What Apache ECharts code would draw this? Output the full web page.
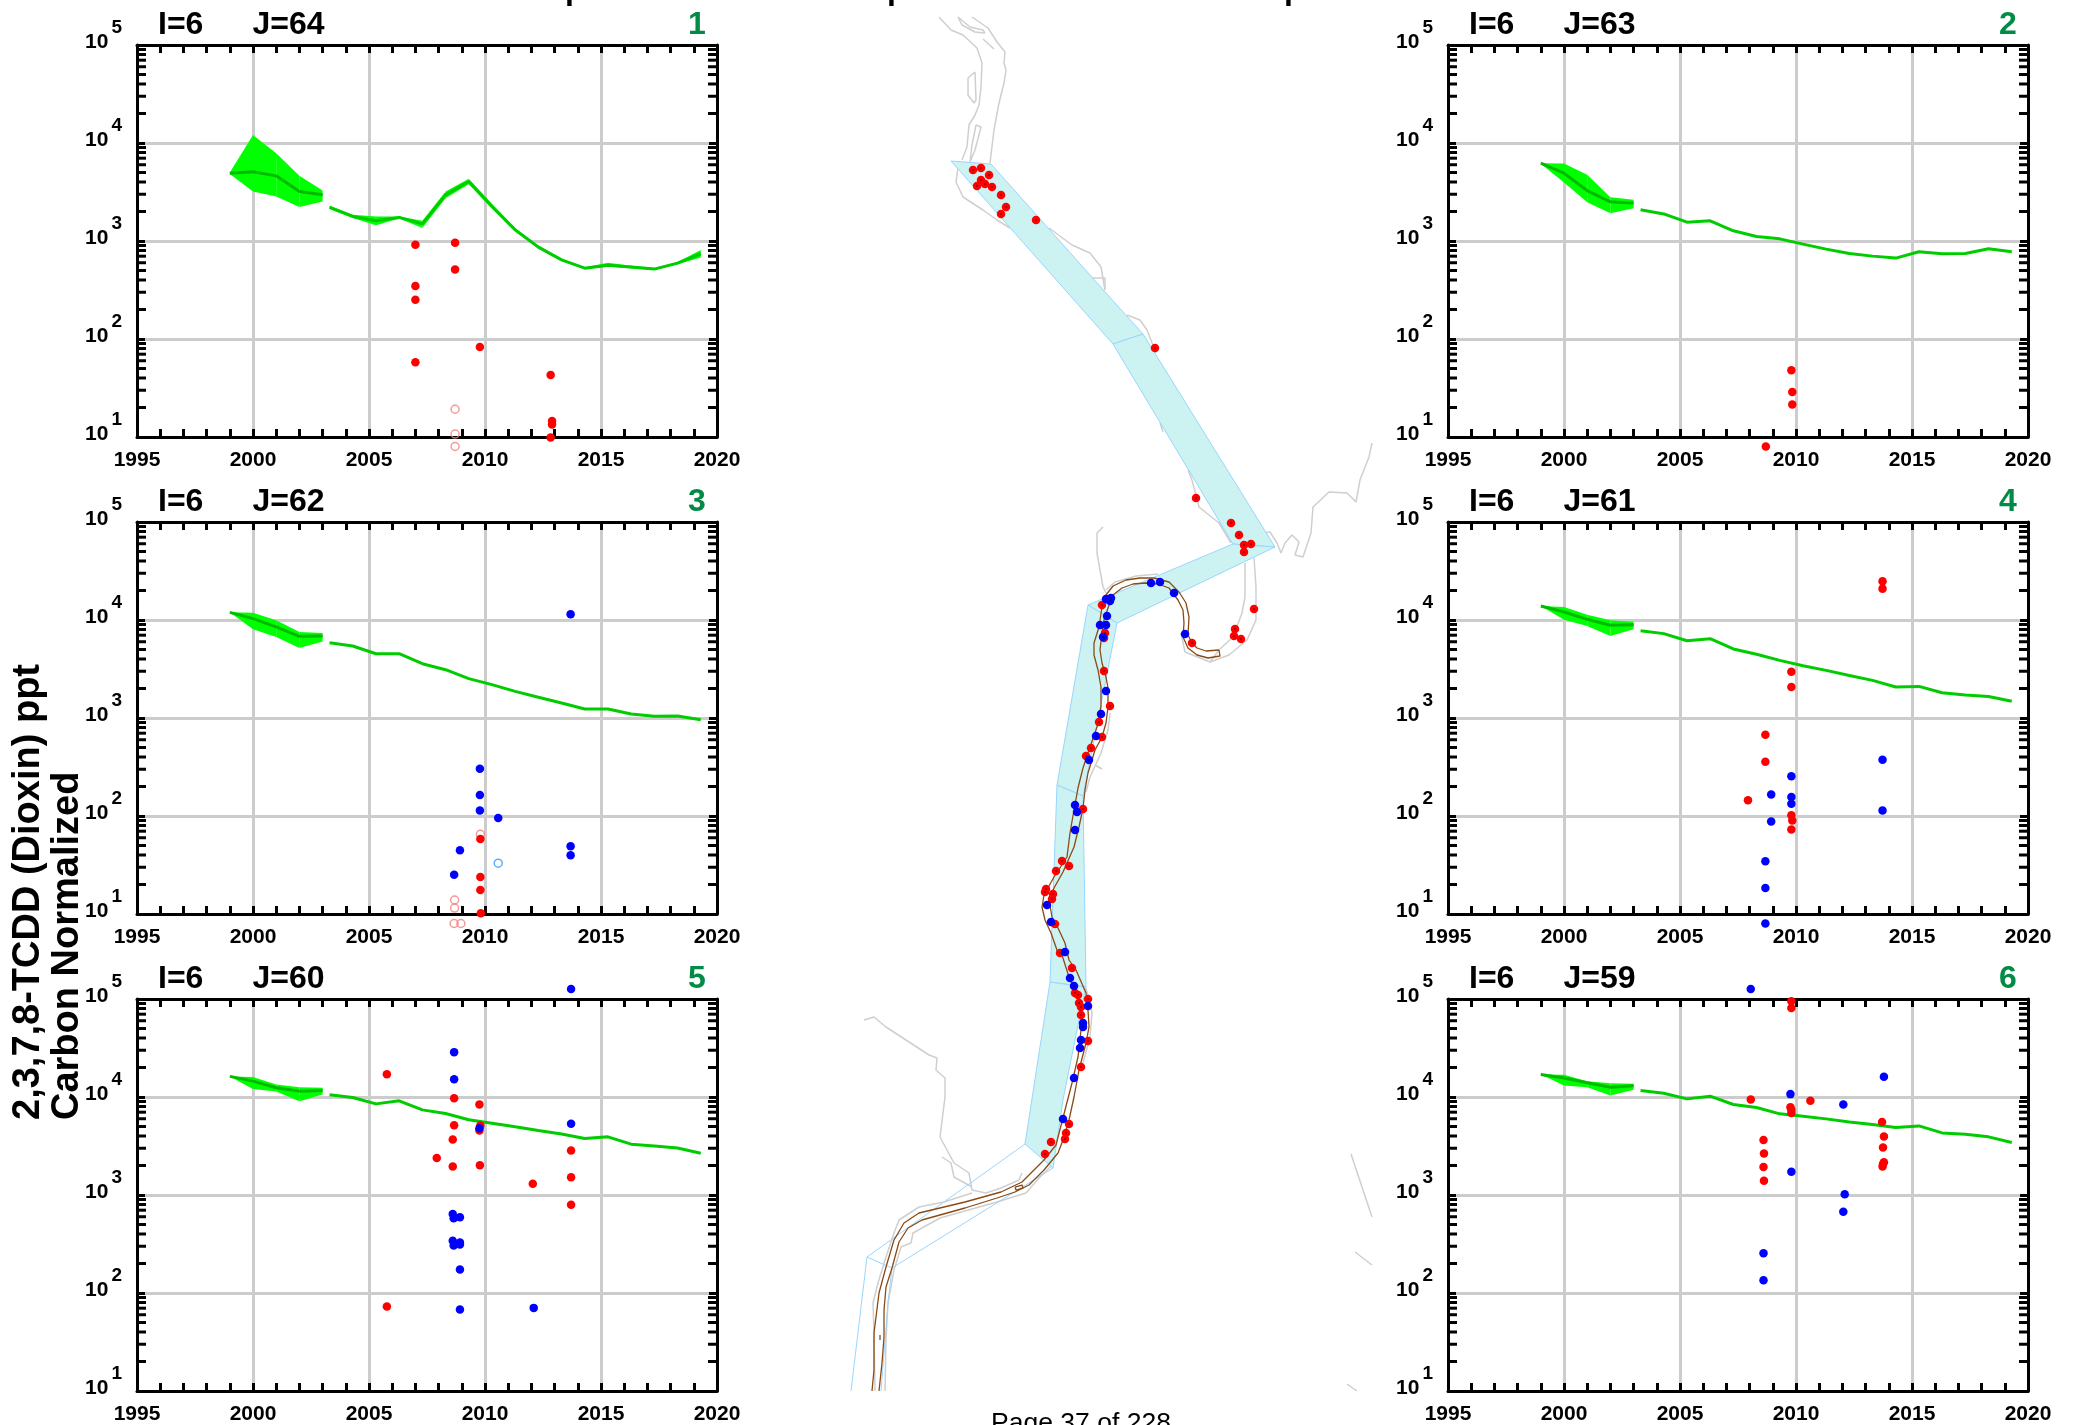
<!DOCTYPE html>
<html>
<head>
<meta charset="utf-8">
<title>Dioxin panels</title>
<style>
  html, body { margin: 0; padding: 0; background: #fff; }
  #chart { width: 2076px; height: 1425px; }
</style>
<script src="https://cdn.jsdelivr.net/npm/echarts@6/dist/echarts.min.js"></script>
</head>
<body>
<div id="chart"></div>
<script>
var bandYears = [1999, 2000, 2001, 2002, 2003];
var trendYears = [2003.3, 2004.3, 2005.3, 2006.3, 2007.3, 2008.3, 2009.3, 2010.3, 2011.3, 2012.3, 2013.3, 2014.3, 2015.3, 2016.3, 2017.3, 2018.3, 2019.3];

// panel 1, J=64
var p1BandHi = [5000, 12100, 7870, 4620, 3270];
var p1BandMid = [4920, 5100, 4620, 3200, 2960];
var p1BandLo = [4840, 3200, 2850, 2220, 2530];
var p1Trend = [2200, 1780, 1606, 1740, 1496, 2958, 4045, 2248, 1300, 865, 642, 528, 567, 542, 517, 595, 741];
var p1TrendHi = [2300, 1850, 1780, 1780, 1610, 3200, 4310, 2400, 1360, 900, 660, 540, 600, 560, 530, 610, 810];
var p1TrendLo = [2120, 1720, 1450, 1700, 1360, 2730, 3800, 2140, 1250, 840, 625, 515, 550, 525, 505, 580, 680];
var p1Red = [[2007.0, 914], [2007.0, 347], [2007.0, 251], [2007.0, 58], [2008.71, 960], [2008.71, 513], [2009.78, 83], [2012.83, 43], [2012.89, 14.6], [2012.89, 13.4], [2012.83, 9.9]];
var p1RedOpen = [[2008.71, 19.2], [2008.71, 10.7], [2008.71, 8.0]];

// panel 2, J=63
var p2BandHi = [6220, 6180, 4730, 2800, 2630];
var p2BandMid = [6220, 4920, 3270, 2510, 2435];
var p2BandLo = [6150, 3950, 2490, 1920, 2160];
var p2Trend = [2080, 1890, 1557, 1606, 1270, 1112, 1052, 929, 826, 746, 701, 669, 776, 741, 746, 832, 776];
var p2Red = [[2009.8, 48], [2009.84, 28.8], [2009.84, 21.4], [2008.7, 8.0]];

// panel 3, J=62
var p3BandHi = [11970, 11880, 9930, 7550, 7360];
var p3BandMid = [11970, 10320, 8500, 6810, 6870];
var p3BandLo = [11970, 8040, 6710, 5180, 6050];
var p3Trend = [5870, 5430, 4530, 4530, 3580, 3110, 2520, 2190, 1870, 1626, 1422, 1236, 1236, 1099, 1040, 1047, 961];
var p3Red = [[2009.8, 58.2], [2009.8, 23.9], [2009.8, 17.6], [2009.82, 10.2]];
var p3RedOpen = [[2009.8, 65], [2008.69, 13.9], [2008.69, 11.5], [2008.67, 8.0], [2008.96, 8.0]];
var p3Blue = [[2013.69, 11430], [2009.78, 304], [2009.78, 164], [2009.78, 114], [2010.57, 95.5], [2008.92, 44.7], [2008.67, 25.2], [2013.69, 49], [2013.69, 39.7]];
var p3BlueOpen = [[2010.57, 33]];

// panel 4, J=61
var p4BandHi = [13900, 13570, 11320, 9930, 9620];
var p4BandMid = [13900, 12080, 10160, 8830, 8960];
var p4BandLo = [13900, 10080, 8690, 6870, 8040];
var p4Trend = [7780, 7260, 6150, 6450, 5060, 4470, 3870, 3420, 3060, 2720, 2420, 2070, 2100, 1810, 1720, 1660, 1480];
var p4Red = [[2013.73, 24800], [2013.73, 20900], [2009.8, 2970], [2009.8, 2070], [2008.68, 676], [2008.68, 358], [2007.93, 145], [2009.8, 102], [2009.84, 90], [2009.8, 73]];
var p4Blue = [[2013.73, 376], [2013.73, 114], [2009.8, 254], [2008.93, 166], [2009.8, 156], [2009.8, 133], [2008.93, 88], [2008.68, 34.5], [2008.68, 18.4], [2008.68, 8.0]];

// panel 5, J=60
var p5BandHi = [16230, 15960, 13430, 12590, 12420];
var p5BandMid = [16230, 14520, 12420, 11480, 11650];
var p5BandLo = [16230, 12100, 11380, 9060, 10600];
var p5Trend = [10520, 9890, 8510, 9140, 7390, 6780, 5850, 5410, 4960, 4550, 4200, 3770, 3920, 3300, 3170, 3020, 2670];
var p5Red = [[2005.77, 17100], [2005.77, 72.8], [2008.67, 9730], [2009.76, 8380], [2008.67, 5150], [2009.8, 5120], [2009.76, 4550], [2008.61, 3680], [2007.92, 2390], [2008.61, 1950], [2009.78, 2010], [2012.06, 1306], [2013.71, 2840], [2013.71, 1514], [2013.71, 796]];
var p5Blue = [[2013.71, 126600], [2008.67, 28700], [2008.67, 15200], [2009.76, 4800], [2013.71, 5320], [2008.61, 640], [2008.65, 578], [2008.92, 592], [2008.61, 341], [2008.65, 306], [2008.92, 328], [2008.92, 313], [2008.92, 174], [2008.92, 68], [2012.1, 70.5]];

// panel 6, J=59
var p6BandHi = [16980, 16860, 14520, 13830, 13630];
var p6BandMid = [16980, 15600, 13960, 12590, 13000];
var p6BandLo = [16980, 13130, 12590, 10350, 11830];
var p6Trend = [11650, 10940, 9570, 10200, 8380, 7820, 6730, 6370, 5980, 5570, 5240, 4880, 5070, 4300, 4170, 3920, 3430];
var p6Red = [[2009.8, 94600], [2009.8, 80900], [2008.05, 9430], [2010.62, 9140], [2009.76, 7870], [2009.8, 7390], [2009.8, 6880], [2013.71, 5570], [2013.79, 3950], [2013.75, 3050], [2013.79, 2160], [2013.75, 2075], [2013.73, 1950], [2008.6, 3650], [2008.62, 2650], [2008.6, 1930], [2008.62, 1400]];
var p6Blue = [[2008.05, 126600], [2009.76, 10700], [2013.79, 16090], [2012.04, 8380], [2009.8, 1730], [2012.1, 1016], [2012.04, 676], [2008.6, 255], [2008.6, 135]];

var panelTitles = ['J=64', 'J=63', 'J=62', 'J=61', 'J=60', 'J=59'];
var panelNumbers = ['1', '2', '3', '4', '5', '6'];
var yTickDecades = [10, 100, 1000, 10000];
var yTickSteps = [2, 3, 4, 5, 6, 7, 8, 9];

// map, river segments (map units match the page)
var segmentFills = [
  [[951, 161], [991, 164], [1106, 293], [1143, 334], [1113, 344]],
  [[1143, 334], [1275, 547], [1233, 544], [1113, 344]],
  [[1233, 544], [1275, 547], [1117, 623], [1088, 605]],
  [[1088, 605], [1117, 623], [1083, 796], [1057, 785]],
  [[1057, 785], [1083, 796], [1086, 987], [1050, 982]],
  [[1050, 982], [1086, 987], [1077, 1030], [1063, 1100], [1053, 1168], [1025, 1144]]
];
var segmentOutlines = [
  [[1025, 1144], [867, 1257], [892, 1268], [1053, 1168]],
  [[867, 1257], [851, 1391]],
  [[892, 1268], [888, 1303], [881, 1391]]
];
var riverBanks = [
  [[1219, 650], [1220, 656], [1208, 658], [1197, 655], [1188, 648], [1183, 637], [1184, 623], [1183, 610], [1178, 600], [1169, 588], [1158, 584], [1145, 583], [1133, 584], [1122, 588], [1113, 595], [1108, 608], [1104, 620], [1102, 633], [1100, 650], [1102, 663], [1106, 677], [1108, 688], [1108, 707], [1106, 723], [1102, 737], [1095, 750], [1088, 773], [1085, 790], [1083, 808], [1079, 827], [1074, 847], [1063, 872], [1054, 888], [1049, 900], [1052, 917], [1058, 928], [1065, 943], [1069, 960], [1076, 970], [1086, 993], [1088, 1010], [1089, 1027], [1086, 1043], [1079, 1070], [1074, 1097], [1069, 1120], [1063, 1140], [1058, 1153], [1044, 1170], [1029, 1185], [1015, 1192], [997, 1198], [965, 1208], [922, 1220], [908, 1228], [899, 1242], [892, 1268], [886, 1287], [884, 1310], [884, 1337], [882, 1363], [879, 1391]],
  [[1219, 650], [1206, 651], [1197, 648], [1192, 643], [1188, 635], [1189, 617], [1186, 603], [1179, 592], [1169, 582], [1154, 578], [1140, 578], [1126, 580], [1113, 586], [1106, 595], [1102, 607], [1099, 627], [1094, 643], [1094, 655], [1098, 670], [1101, 687], [1101, 707], [1097, 727], [1090, 747], [1083, 768], [1078, 788], [1074, 810], [1070, 833], [1067, 857], [1054, 877], [1044, 895], [1042, 907], [1045, 920], [1051, 933], [1058, 953], [1062, 955], [1069, 977], [1076, 993], [1081, 1013], [1081, 1030], [1078, 1057], [1072, 1083], [1065, 1110], [1056, 1145], [1044, 1160], [1022, 1182], [1001, 1192], [965, 1202], [919, 1213], [904, 1223], [894, 1240], [886, 1267], [879, 1293], [874, 1333], [874, 1370], [872, 1391]],
  [[1015, 1187], [1022, 1185], [1023, 1188], [1016, 1190], [1015, 1187]],
  [[880, 1335], [881, 1336], [880, 1340], [879, 1339], [880, 1335]]
];
var shoreLines = [
  [[972, 17], [988, 28], [997, 42], [1005, 52], [1004, 63], [1006, 70], [1004, 83], [999, 103], [994, 130], [990, 163]],
  [[939, 17], [951, 30], [963, 35], [977, 48], [982, 63], [981, 87], [979, 105], [975, 115], [969, 125], [967, 147], [962, 160]],
  [[968, 78], [975, 72], [976, 100], [974, 103], [968, 95], [968, 78]],
  [[976, 125], [981, 127], [975, 150], [970, 162], [972, 145], [976, 125]],
  [[958, 17], [962, 25], [975, 32], [985, 33], [983, 30], [970, 27], [958, 17]],
  [[983, 39], [994, 49]],
  [[958, 167], [956, 182], [963, 197], [983, 210], [997, 220], [1010, 228]],
  [[1049, 228], [1072, 245], [1090, 253], [1101, 267], [1105, 290]],
  [[1090, 278], [1105, 278], [1105, 290]],
  [[1127, 315], [1140, 320], [1147, 330], [1156, 353]],
  [[1160, 423], [1163, 432]],
  [[1188, 470], [1192, 480], [1199, 507], [1219, 523], [1231, 543]],
  [[1263, 533], [1270, 532], [1277, 543], [1281, 553], [1285, 543], [1292, 535], [1299, 542], [1295, 555], [1303, 557], [1311, 533], [1313, 507], [1329, 492], [1347, 493], [1356, 502], [1360, 480], [1369, 457], [1372, 443]],
  [[1245, 563], [1245, 597], [1242, 613], [1233, 637], [1219, 650], [1210, 662], [1185, 652], [1181, 633]],
  [[1254, 558], [1256, 587], [1256, 620], [1247, 640], [1229, 655], [1210, 662]],
  [[1103, 527], [1097, 533], [1097, 553], [1103, 587], [1106, 593]],
  [[1106, 590], [1115, 582], [1136, 576], [1158, 574]],
  [[1110, 713], [1108, 730], [1101, 753], [1090, 777], [1086, 792]],
  [[1095, 765], [1102, 769]],
  [[864, 1020], [874, 1017], [886, 1027], [929, 1055], [937, 1058], [936, 1070], [945, 1078], [945, 1097], [940, 1137], [947, 1150], [954, 1163], [969, 1173], [972, 1190], [986, 1193], [1001, 1188], [1019, 1180], [1022, 1173]],
  [[942, 1157], [951, 1163], [954, 1177], [972, 1187]],
  [[972, 1193], [944, 1202], [919, 1207], [899, 1220], [894, 1233], [886, 1257], [878, 1283], [873, 1303], [874, 1333], [875, 1391]],
  [[1026, 1193], [997, 1202], [940, 1218], [913, 1233], [911, 1243], [901, 1247], [894, 1270], [888, 1303], [886, 1340], [885, 1391]],
  [[1086, 988], [1092, 1013], [1090, 1037], [1083, 1063]],
  [[1054, 1163], [1040, 1177], [1026, 1193]],
  [[1351, 1154], [1372, 1217]],
  [[1355, 1252], [1372, 1265]],
  [[1347, 1384], [1357, 1391]]
];
var mapRed = [[973, 170], [981, 168], [989, 175], [981, 180], [985, 184], [977, 186], [992, 187], [1001, 195], [1006, 207], [1001, 214], [1036, 220], [1155, 348], [1196, 498], [1231, 523], [1239, 535], [1244, 545], [1251, 544], [1244, 552], [1254, 609], [1235, 629], [1234, 636], [1241, 639], [1192, 643], [1102, 605], [1105, 633], [1104, 638], [1104, 671], [1110, 706], [1099, 722], [1102, 737], [1091, 748], [1086, 756], [1083, 809], [1062, 861], [1069, 866], [1056, 871], [1046, 889], [1045, 892], [1053, 894], [1052, 899], [1055, 924], [1060, 953], [1072, 968], [1075, 993], [1078, 995], [1088, 999], [1079, 1003], [1081, 1007], [1081, 1015], [1088, 1041], [1081, 1067], [1069, 1124], [1066, 1133], [1065, 1139], [1051, 1142], [1045, 1154]];
var mapBlue = [[1151, 583], [1160, 582], [1174, 593], [1185, 634], [1106, 599], [1111, 598], [1110, 601], [1107, 616], [1100, 625], [1106, 625], [1103, 637], [1106, 691], [1101, 714], [1096, 736], [1089, 760], [1075, 805], [1077, 812], [1075, 830], [1047, 905], [1051, 922], [1065, 952], [1070, 978], [1074, 986], [1088, 1006], [1083, 1023], [1083, 1027], [1081, 1040], [1080, 1048], [1074, 1078], [1063, 1119]];
var mapLabels = [[1083, 252], [1232, 440], [1219, 583], [1125, 700], [1105, 886], [1093, 1074]];

var panels = [
  { hi: p1BandHi, mid: p1BandMid, lo: p1BandLo, trend: p1Trend, trendHi: p1TrendHi, trendLo: p1TrendLo, red: p1Red, redOpen: p1RedOpen },
  { hi: p2BandHi, mid: p2BandMid, lo: p2BandLo, trend: p2Trend, red: p2Red },
  { hi: p3BandHi, mid: p3BandMid, lo: p3BandLo, trend: p3Trend, red: p3Red, redOpen: p3RedOpen, blue: p3Blue, blueOpen: p3BlueOpen },
  { hi: p4BandHi, mid: p4BandMid, lo: p4BandLo, trend: p4Trend, red: p4Red, blue: p4Blue },
  { hi: p5BandHi, mid: p5BandMid, lo: p5BandLo, trend: p5Trend, red: p5Red, blue: p5Blue },
  { hi: p6BandHi, mid: p6BandMid, lo: p6BandLo, trend: p6Trend, red: p6Red, blue: p6Blue }
];

var FONT = '"Liberation Sans", Arial, sans-serif';
var GREEN_TEXT = '#008c46';
var panelLeft = [137, 1448];
var panelTop = [45, 522, 999];
var panelW = 580;
var panelH = 392;

var minorVals = [];
yTickDecades.forEach(function (d) {
  yTickSteps.forEach(function (s) { minorVals.push(d * s); });
});

function zip(xs, ys) {
  return xs.map(function (x, i) { return [x, ys[i]]; });
}

var grids = [], xAxes = [], yAxes = [], series = [], graphics = [];

function bandSeries(years, hi, lo, idx) {
  return {
    type: 'custom', xAxisIndex: idx, yAxisIndex: idx, silent: true, z: 3,
    data: years.slice(0, -1),
    renderItem: function (params, api) {
      var i = params.dataIndex;
      return {
        type: 'polygon',
        shape: { points: [
          api.coord([years[i], lo[i]]), api.coord([years[i], hi[i]]),
          api.coord([years[i + 1], hi[i + 1]]), api.coord([years[i + 1], lo[i + 1]])
        ] },
        style: { fill: '#00ff00' }
      };
    }
  };
}

function dots(data, idx, color, open, z) {
  return {
    type: 'scatter', xAxisIndex: idx, yAxisIndex: idx, data: data, clip: false, silent: true,
    symbolSize: open ? 8 : 8.5, z: z,
    itemStyle: open ? { color: 'rgba(0,0,0,0)', borderColor: color, borderWidth: 1.5 } : { color: color, opacity: 1 }
  };
}

panels.forEach(function (p, i) {
  var col = i % 2, row = Math.floor(i / 2);
  var left = panelLeft[col], top = panelTop[row];
  grids.push({ left: left, top: top, width: panelW, height: panelH, containLabel: false });

  var tickStyle = { show: true, inside: true, length: 8, lineStyle: { color: '#000', width: 3 } };
  var minorStyle = { show: true, splitNumber: 5, length: 8, lineStyle: { color: '#000', width: 3 } };
  var lineStyle = { show: true, onZero: false, lineStyle: { color: '#000', width: 3 } };

  xAxes.push({
    type: 'value', gridIndex: i, position: 'bottom', min: 1995, max: 2020, interval: 5,
    axisLine: lineStyle, axisTick: tickStyle, minorTick: minorStyle,
    axisLabel: {
      margin: 13, color: '#000', fontFamily: FONT, fontWeight: 'bold', fontSize: 21, showMinLabel: true, showMaxLabel: true,
      formatter: function (v) { return String(v); }
    },
    splitLine: { show: true, lineStyle: { color: '#cccccc', width: 3 } }
  });
  xAxes.push({
    type: 'value', gridIndex: i, position: 'top', min: 1995, max: 2020, interval: 5,
    axisLine: lineStyle, axisTick: tickStyle, minorTick: minorStyle,
    axisLabel: { show: false }, splitLine: { show: false }
  });
  yAxes.push({
    type: 'log', logBase: 10, gridIndex: i, position: 'left', min: 10, max: 100000,
    axisLine: lineStyle, axisTick: tickStyle, minorTick: { show: false },
    axisLabel: {
      margin: 15, color: '#000', verticalAlign: 'bottom', padding: [0, 0, -7.5, 0],
      formatter: function (v) { return '{a|10}{b|' + Math.round(Math.log(v) / Math.LN10) + '}'; },
      rich: {
        a: { fontFamily: FONT, fontWeight: 'bold', fontSize: 21, verticalAlign: 'bottom' },
        b: { fontFamily: FONT, fontWeight: 'bold', fontSize: 19, padding: [0, 0, 15.5, 3], verticalAlign: 'bottom' }
      }
    },
    splitLine: { show: true, lineStyle: { color: '#cccccc', width: 3 } }
  });
  yAxes.push({
    type: 'log', logBase: 10, gridIndex: i, position: 'right', min: 10, max: 100000,
    axisLine: lineStyle, axisTick: tickStyle, minorTick: { show: false },
    axisLabel: { show: false }, splitLine: { show: false }
  });

  var a = i * 2;
  // log minor ticks down both sides of the frame
  series.push({
    type: 'custom', xAxisIndex: a, yAxisIndex: a, silent: true, clip: false, z: 4,
    data: minorVals.map(function (v) { return [1995, v]; }),
    renderItem: function (params, api) {
      var y = api.coord([1995, api.value(1)])[1];
      var cs = params.coordSys;
      var style = { stroke: '#000', lineWidth: 3, fill: null };
      return {
        type: 'group', children: [
          { type: 'line', shape: { x1: cs.x, y1: y, x2: cs.x + 9, y2: y }, style: style },
          { type: 'line', shape: { x1: cs.x + cs.width - 9, y1: y, x2: cs.x + cs.width, y2: y }, style: style }
        ]
      };
    }
  });

  series.push(bandSeries(bandYears, p.hi, p.lo, a));
  if (p.trendHi) series.push(bandSeries(trendYears, p.trendHi, p.trendLo, a));
  series.push({
    type: 'line', xAxisIndex: a, yAxisIndex: a, data: zip(bandYears, p.mid), showSymbol: false, silent: true, z: 4,
    lineStyle: { color: '#00bb00', width: 3 }
  });
  series.push({
    type: 'line', xAxisIndex: a, yAxisIndex: a, data: zip(trendYears, p.trend), showSymbol: false, silent: true, z: 4,
    lineStyle: { color: '#00cc00', width: 3 }
  });
  if (p.redOpen) series.push(dots(p.redOpen, a, '#f08080', true, 5));
  if (p.blueOpen) series.push(dots(p.blueOpen, a, '#3399ff', true, 5));
  series.push(dots(p.red, a, '#ff0000', false, 6));
  if (p.blue) series.push(dots(p.blue, a, '#0000ff', false, 7));

  graphics.push({ type: 'text', x: left + 21, y: top - 20, style: { text: 'I=6', font: 'bold 32px ' + FONT, fill: '#000', textVerticalAlign: 'middle' } });
  graphics.push({ type: 'text', x: left + 115.5, y: top - 20, style: { text: panelTitles[i], font: 'bold 32px ' + FONT, fill: '#000', textVerticalAlign: 'middle' } });
  graphics.push({ type: 'text', x: left + 560, y: top - 20, style: { text: panelNumbers[i], font: 'bold 32px ' + FONT, fill: GREEN_TEXT, textAlign: 'center', textVerticalAlign: 'middle' } });
});

// map sits in its own hidden grid
var m = panels.length * 2;
grids.push({ left: 840, top: 0, width: 532, height: 1391 });
xAxes.push({ type: 'value', gridIndex: panels.length, min: 840, max: 1372, show: false });
yAxes.push({ type: 'value', gridIndex: panels.length, min: 0, max: 1391, inverse: true, show: false });

function mapLine(points, color, width, z) {
  return {
    type: 'line', xAxisIndex: m, yAxisIndex: m, data: points, showSymbol: false, silent: true, z: z,
    lineStyle: { color: color, width: width }
  };
}

shoreLines.forEach(function (pts) { series.push(mapLine(pts, '#cfcfcf', 1.5, 2)); });
series.push({
  type: 'custom', xAxisIndex: m, yAxisIndex: m, silent: true, z: 3,
  data: segmentFills.map(function (s, i) { return i; }),
  renderItem: function (params, api) {
    return {
      type: 'polygon',
      shape: { points: segmentFills[params.dataIndex].map(function (pt) { return api.coord(pt); }) },
      style: { fill: '#ccf2f2', stroke: '#99d6ff', lineWidth: 1 }
    };
  }
});
segmentOutlines.forEach(function (pts) { series.push(mapLine(pts, '#99d6ff', 1, 3)); });
riverBanks.forEach(function (pts) { series.push(mapLine(pts, '#8b4a14', 1.3, 4)); });
series.push({
  type: 'scatter', xAxisIndex: m, yAxisIndex: m, silent: true, z: 5, symbolSize: 1,
  itemStyle: { opacity: 0 },
  data: mapLabels.map(function (pt, i) { return { value: pt, name: panelNumbers[i] }; }),
  label: {
    show: true, position: 'inside', formatter: '{b}', color: GREEN_TEXT,
    fontFamily: FONT, fontWeight: 'bold', fontSize: 52
  }
});
series.push(dots(mapRed, m, '#ff0000', false, 6));
series.push(dots(mapBlue, m, '#0000ff', false, 7));
series.push({
  type: 'scatter', xAxisIndex: m, yAxisIndex: m, silent: true, z: 8, symbolSize: 1.5,
  itemStyle: { color: '#000' }, data: mapRed.concat(mapBlue)
});

// rotated axis title and the text cut off by the page edges
graphics.push({ type: 'text', x: 29, y: 1120, rotation: Math.PI / 2, style: { text: '2,3,7,8-TCDD (Dioxin) ppt', font: 'bold 38px ' + FONT, fill: '#000', textAlign: 'left', textVerticalAlign: 'middle' } });
graphics.push({ type: 'text', x: 68, y: 1120, rotation: Math.PI / 2, style: { text: 'Carbon Normalized', font: 'bold 38px ' + FONT, fill: '#000', textAlign: 'left', textVerticalAlign: 'middle' } });
graphics.push({ type: 'text', x: 1081, y: 1410, style: { text: 'Page 37 of 228', font: '26.5px ' + FONT, fill: '#000', textAlign: 'center', textVerticalAlign: 'top' } });
[565, 887, 1284].forEach(function (x) {
  graphics.push({ type: 'text', x: x, y: 6, style: { text: 'p', font: 'bold 32px ' + FONT, fill: '#000', textVerticalAlign: 'bottom' } });
});

var chart = echarts.init(document.getElementById('chart'), null, { renderer: 'canvas' });
chart.setOption({
  backgroundColor: '#fff',
  animation: false,
  grid: grids,
  xAxis: xAxes,
  yAxis: yAxes,
  series: series,
  graphic: graphics
});
</script>
</body>
</html>
